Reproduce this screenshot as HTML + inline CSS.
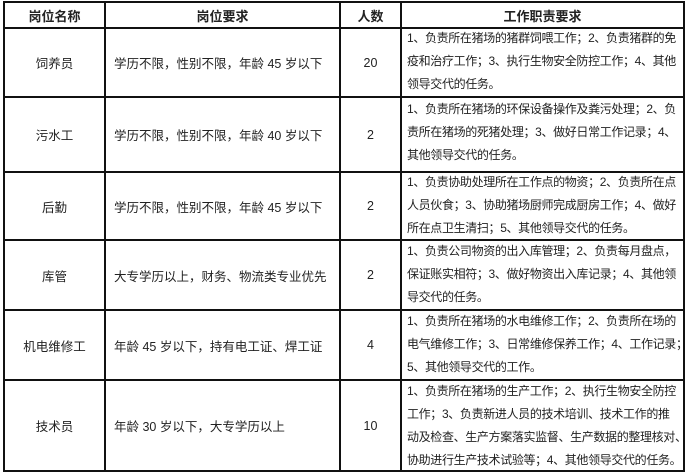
<!DOCTYPE html>
<html><head><meta charset="utf-8"><style>
body{margin:0;width:685px;height:473px;background:#fff;overflow:hidden;font-family:"Liberation Sans","Noto Sans CJK SC",sans-serif;color:#222;}
.h{position:absolute;background:#111;height:2px;left:4px;width:680px}
.v{position:absolute;background:#111;width:2px;top:1px;height:471px}
.c{position:absolute;display:flex;align-items:center;justify-content:center;font-size:12.5px;text-align:center}
.l{justify-content:flex-start;text-align:left;padding-left:8px;box-sizing:border-box}
.t{position:absolute;left:407px;width:276px;font-size:12px;line-height:23px;white-space:nowrap;letter-spacing:-0.35px}
.b{font-weight:bold;font-size:13px}
</style></head><body>
<div class="h" style="top:1px"></div>
<div class="h" style="top:27px"></div>
<div class="h" style="top:96px"></div>
<div class="h" style="top:171px"></div>
<div class="h" style="top:239px"></div>
<div class="h" style="top:309px"></div>
<div class="h" style="top:379px"></div>
<div class="h" style="top:470px"></div>
<div class="v" style="left:3px"></div>
<div class="v" style="left:104px"></div>
<div class="v" style="left:339px"></div>
<div class="v" style="left:400px"></div>
<div class="v" style="left:683px"></div>

<div class="c b" style="left:5px;width:99px;top:3px;height:24px">岗位名称</div>
<div class="c b" style="left:106px;width:233px;top:3px;height:24px">岗位要求</div>
<div class="c b" style="left:341px;width:59px;top:3px;height:24px">人数</div>
<div class="c b" style="left:402px;width:281px;top:3px;height:24px">工作职责要求</div>

<div class="c" style="left:5px;width:99px;top:29px;height:67px">饲养员</div>
<div class="c l" style="left:106px;width:233px;top:29px;height:67px">学历不限，性别不限，年龄 45 岁以下</div>
<div class="c" style="left:341px;width:59px;top:29px;height:67px">20</div>
<div class="t" style="top:27px">1、负责所在猪场的猪群饲喂工作；2、负责猪群的免<br>疫和治疗工作；3、执行生物安全防控工作；4、其他<br>领导交代的任务。</div>

<div class="c" style="left:5px;width:99px;top:98px;height:73px">污水工</div>
<div class="c l" style="left:106px;width:233px;top:98px;height:73px">学历不限，性别不限，年龄 40 岁以下</div>
<div class="c" style="left:341px;width:59px;top:98px;height:73px">2</div>
<div class="t" style="top:98px">1、负责所在猪场的环保设备操作及粪污处理；2、负<br>责所在猪场的死猪处理；3、做好日常工作记录；4、<br>其他领导交代的任务。</div>

<div class="c" style="left:5px;width:99px;top:173px;height:66px">后勤</div>
<div class="c l" style="left:106px;width:233px;top:173px;height:66px">学历不限，性别不限，年龄 45 岁以下</div>
<div class="c" style="left:341px;width:59px;top:173px;height:66px">2</div>
<div class="t" style="top:171px">1、负责协助处理所在工作点的物资；2、负责所在点<br>人员伙食；3、协助猪场厨师完成厨房工作；4、做好<br>所在点卫生清扫；5、其他领导交代的任务。</div>

<div class="c" style="left:5px;width:99px;top:241px;height:68px">库管</div>
<div class="c l" style="left:106px;width:233px;top:241px;height:68px">大专学历以上，财务、物流类专业优先</div>
<div class="c" style="left:341px;width:59px;top:241px;height:68px">2</div>
<div class="t" style="top:240px">1、负责公司物资的出入库管理；2、负责每月盘点，<br>保证账实相符；3、做好物资出入库记录；4、其他领<br>导交代的任务。</div>

<div class="c" style="left:5px;width:99px;top:311px;height:68px">机电维修工</div>
<div class="c l" style="left:106px;width:233px;top:311px;height:68px">年龄 45 岁以下，持有电工证、焊工证</div>
<div class="c" style="left:341px;width:59px;top:311px;height:68px">4</div>
<div class="t" style="top:310px">1、负责所在猪场的水电维修工作；2、负责所在场的<br>电气维修工作；3、日常维修保养工作；4、工作记录；<br>5、其他领导交代的工作。</div>

<div class="c" style="left:5px;width:99px;top:381px;height:89px">技术员</div>
<div class="c l" style="left:106px;width:233px;top:381px;height:89px">年龄 30 岁以下，大专学历以上</div>
<div class="c" style="left:341px;width:59px;top:381px;height:89px">10</div>
<div class="t" style="top:380px">1、负责所在猪场的生产工作；2、执行生物安全防控<br>工作；3、负责新进人员的技术培训、技术工作的推<br>动及检查、生产方案落实监督、生产数据的整理核对、<br>协助进行生产技术试验等；4、其他领导交代的任务。</div>
</body></html>
